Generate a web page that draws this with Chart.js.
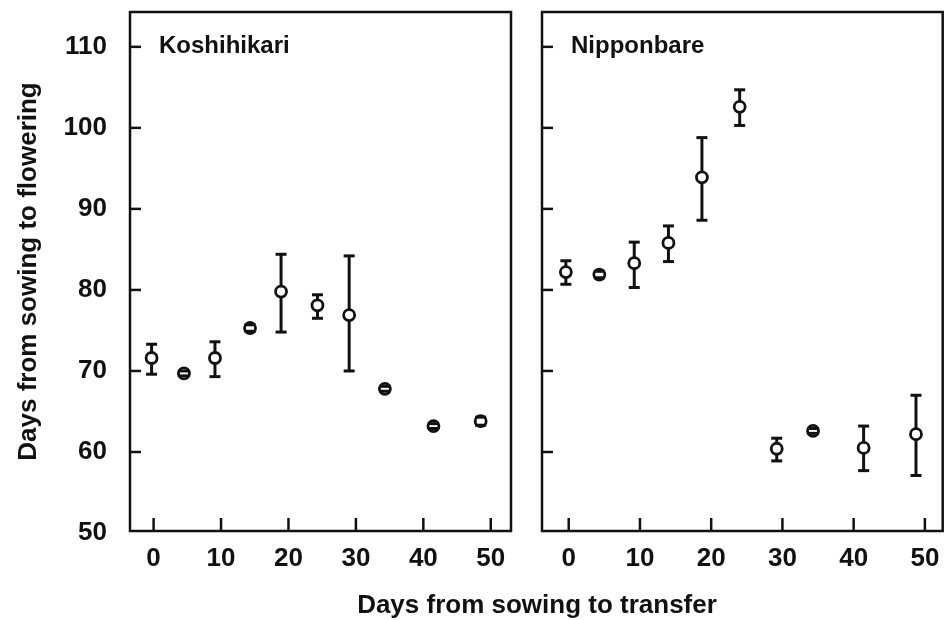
<!DOCTYPE html>
<html>
<head>
<meta charset="utf-8">
<script src="https://cdn.jsdelivr.net/npm/chart.js@4"></script>
<style>
  body { margin: 0; background: #fff; }
  #wrap { position: relative; width: 951px; height: 620px; }
  canvas { position: absolute; top: 0; }
  #left { left: 0; }
  #right { left: 527px; }
  #xtitle {
    position: absolute; left: 287px; top: 589px; width: 500px;
    text-align: center; line-height: 30px;
    font: bold 26px "Liberation Sans", Arial, sans-serif; color: #111;
  }
</style>
</head>
<body>
<div id="wrap">
  <canvas id="left" width="527" height="590"></canvas>
  <canvas id="right" width="424" height="590"></canvas>
  <div id="xtitle">Days from sowing to transfer</div>
</div>
<script>
// sowing-to-transfer days and sowing-to-flowering days (mean, low, high)
var kosDays  = [-0.3, 4.5, 9.1, 14.3, 18.9, 24.3, 29.0, 34.3, 41.5, 48.5];
var kosMean  = [71.6, 69.7, 71.6, 75.3, 79.8, 78.1, 76.9, 67.8, 63.2, 63.8];
var kosLow   = [69.6, 69.4, 69.3, 74.9, 74.8, 76.5, 70.0, 67.5, 62.9, 63.3];
var kosHigh  = [73.3, 70.0, 73.6, 75.7, 84.4, 79.4, 84.2, 68.1, 63.5, 64.3];

var nipDays  = [-0.4, 4.3, 9.2, 14.0, 18.7, 24.0, 29.2, 34.3, 41.4, 48.75];
var nipMean  = [82.2, 81.9, 83.3, 85.8, 93.9, 102.6, 60.4, 62.6, 60.5, 62.2];
var nipLow   = [80.7, 81.5, 80.3, 83.5, 88.6, 100.3, 58.9, 62.3, 57.7, 57.1];
var nipHigh  = [83.6, 82.3, 85.9, 87.9, 98.8, 104.7, 61.7, 62.9, 63.2, 67.0];

var xTicks = [0, 10, 20, 30, 40, 50];
var yTicks = [50, 60, 70, 80, 90, 100, 110];

var INK = '#111';
var FONT = '"Liberation Sans", Arial, sans-serif';

// error bars, frame, inward ticks and the cultivar name
var panelPlugin = {
  id: 'panel',
  beforeDatasetsDraw: function (chart, args, opts) {
    var ctx = chart.ctx, xs = chart.scales.x, ys = chart.scales.y;
    ctx.save();
    ctx.strokeStyle = INK;
    ctx.lineWidth = 3;
    opts.xs.forEach(function (d, i) {
      var px = xs.getPixelForValue(d);
      ctx.beginPath();
      ctx.moveTo(px, ys.getPixelForValue(opts.low[i]));
      ctx.lineTo(px, ys.getPixelForValue(opts.high[i]));
      ctx.stroke();
    });
    ctx.restore();
  },
  afterDatasetsDraw: function (chart, args, opts) {
    var ctx = chart.ctx, xs = chart.scales.x, ys = chart.scales.y;
    var a = chart.chartArea;
    ctx.save();
    ctx.strokeStyle = INK;
    ctx.lineWidth = 3;
    opts.xs.forEach(function (d, i) {
      var px = xs.getPixelForValue(d);
      [opts.low[i], opts.high[i]].forEach(function (v) {
        var py = ys.getPixelForValue(v);
        ctx.beginPath();
        ctx.moveTo(px - 5.5, py);
        ctx.lineTo(px + 5.5, py);
        ctx.stroke();
      });
    });

    ctx.lineWidth = 2.5;
    ctx.strokeRect(a.left, a.top, a.right - a.left, a.bottom - a.top);

    yTicks.forEach(function (v) {
      if (v === 50) return;
      var py = ys.getPixelForValue(v);
      ctx.beginPath();
      ctx.moveTo(a.left, py);
      ctx.lineTo(a.left + 11, py);
      ctx.stroke();
    });
    xTicks.forEach(function (v) {
      var px = xs.getPixelForValue(v);
      ctx.beginPath();
      ctx.moveTo(px, a.bottom);
      ctx.lineTo(px, a.bottom - 13);
      ctx.stroke();
    });

    ctx.fillStyle = INK;
    ctx.font = 'bold 24px ' + FONT;
    ctx.textBaseline = 'middle';
    ctx.textAlign = 'left';
    ctx.fillText(opts.label, a.left + 29, ys.getPixelForValue(110));
    ctx.restore();
  }
};

function makePanel(id, days, mean, low, high, label, xMin, xMax, yWidth, showY) {
  var pts = days.map(function (d, i) { return { x: d, y: mean[i] }; });
  return new Chart(document.getElementById(id), {
    type: 'scatter',
    data: {
      datasets: [{
        data: pts,
        pointRadius: 5.5,
        pointBorderWidth: 2.8,
        pointBorderColor: INK,
        pointBackgroundColor: '#fff',
        showLine: false
      }]
    },
    plugins: [panelPlugin],
    options: {
      responsive: false,
      animation: false,
      layout: { padding: { top: 12, right: showY ? 16 : 4, bottom: 0, left: 0 } },
      plugins: {
        legend: { display: false },
        tooltip: { enabled: false },
        panel: { xs: days, low: low, high: high, label: label }
      },
      scales: {
        x: {
          type: 'linear',
          min: xMin,
          max: xMax,
          afterBuildTicks: function (s) { s.ticks = xTicks.map(function (v) { return { value: v }; }); },
          afterFit: function (s) { s.height = 59; s.paddingLeft = 0; s.paddingRight = 0; },
          grid: { display: false, drawTicks: false },
          border: { display: false },
          ticks: {
            padding: 12,
            color: INK,
            font: { family: FONT, size: 26, weight: 'bold' },
            maxRotation: 0,
            autoSkip: false
          }
        },
        y: {
          min: 50.25,
          max: 114.3,
          afterBuildTicks: function (s) { s.ticks = yTicks.map(function (v) { return { value: v }; }); },
          afterFit: function (s) { s.width = yWidth; s.paddingTop = 0; s.paddingBottom = 0; },
          grid: { display: false, drawTicks: false },
          border: { display: false },
          ticks: {
            display: showY,
            padding: 23,
            color: INK,
            font: { family: FONT, size: 26, weight: 'bold' },
            autoSkip: false
          },
          title: {
            display: showY,
            text: 'Days from sowing to flowering',
            color: INK,
            font: { family: FONT, size: 26, weight: 'bold' },
            padding: { top: 13, bottom: 0 }
          }
        }
      }
    }
  });
}

makePanel('left', kosDays, kosMean, kosLow, kosHigh, 'Koshihikari', -3.5, 53.0, 130, true);
makePanel('right', nipDays, nipMean, nipLow, nipHigh, 'Nipponbare', -3.75, 52.5, 15, false);
</script>
</body>
</html>
